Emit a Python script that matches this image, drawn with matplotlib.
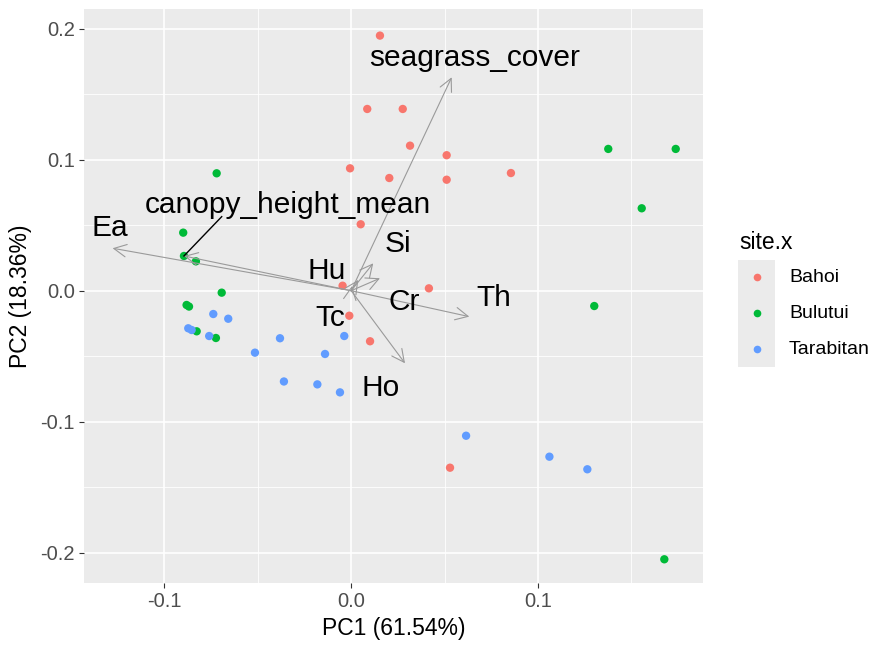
import matplotlib
matplotlib.use("Agg")
import matplotlib.pyplot as plt
from matplotlib.lines import Line2D
from matplotlib.patches import Rectangle

plt.rcParams['font.family'] = ['Liberation Sans', 'DejaVu Sans']

# PCA scores
bahoi_x = [0.0154, 0.0086, 0.0276, 0.0315, 0.0511, -0.0006, 0.0204, 0.0511, 0.0855, 0.0051,
           -0.0046, 0.0416, -0.0010, 0.0101, 0.0529]
bahoi_y = [0.1947, 0.1387, 0.1387, 0.1107, 0.1034, 0.0934, 0.0860, 0.0847, 0.0898, 0.0507,
           0.0038, 0.0018, -0.0191, -0.0386, -0.1351]
bulutui_x = [0.1376, 0.1737, 0.1555, 0.1301, 0.1676, -0.0720, -0.0899, -0.0895, -0.0831, -0.0693,
             -0.0881, -0.0868, -0.0827, -0.0724]
bulutui_y = [0.1082, 0.1082, 0.0629, -0.0117, -0.2050, 0.0896, 0.0443, 0.0265, 0.0224, -0.0015,
             -0.0109, -0.0121, -0.0310, -0.0361]
tara_x = [-0.0738, -0.0658, -0.0872, -0.0854, -0.0760, -0.0381, -0.0515, -0.0037, -0.0140, -0.0360,
          -0.0181, -0.0060, 0.0615, 0.1061, 0.1264]
tara_y = [-0.0178, -0.0214, -0.0287, -0.0300, -0.0346, -0.0363, -0.0473, -0.0346, -0.0483, -0.0693,
          -0.0715, -0.0776, -0.1107, -0.1267, -0.1363]

sites = ["Bahoi", "Bulutui", "Tarabitan"]
site_colors = ["#F8766D", "#00BA38", "#619CFF"]

# loadings (arrow tips) and where their labels sit
var_names = ["seagrass_cover", "Ea", "canopy_height_mean", "Th", "Ho", "Si", "Cr", "Hu", "Tc"]
load_x = [0.0538, -0.1277, -0.0895, 0.0632, 0.0288, 0.0118, 0.0154, 0.0038, 0.0004]
load_y = [0.1629, 0.0324, 0.0265, -0.0198, -0.0554, 0.0209, 0.0095, 0.0082, 0.0036]
lab_x = [0.0663, -0.1291, -0.0339, 0.0761, 0.0160, 0.0251, 0.0283, -0.0131, -0.0113]
lab_y = [0.1776, 0.0479, 0.0654, -0.0056, -0.0743, 0.0356, -0.0084, 0.0152, -0.0212]

W, H = 872, 647
fig = plt.figure(figsize=(W / 100, H / 100), dpi=100)
ax = fig.add_axes([84 / W, 1 - 583 / H, (703 - 84) / W, (583 - 9) / H])
ax.set_facecolor("#EBEBEB")
for s in ax.spines.values():
    s.set_visible(False)

ax.set_xlim(-0.1430, 0.1883)
ax.set_ylim(-0.2231, 0.2150)
ax.set_xticks([-0.1, 0.0, 0.1])
ax.set_xticklabels(["-0.1", "0.0", "0.1"])
ax.set_yticks([-0.2, -0.1, 0.0, 0.1, 0.2])
ax.set_yticklabels(["-0.2", "-0.1", "0.0", "0.1", "0.2"])
ax.set_xticks([-0.05, 0.05, 0.15], minor=True)
ax.set_yticks([-0.15, -0.05, 0.05, 0.15], minor=True)
ax.grid(which="major", color="white", lw=1.2)
ax.grid(which="minor", color="white", lw=0.6)
ax.set_axisbelow(True)
ax.tick_params(which="major", length=3.5, color="#333333", labelsize=14.5, labelcolor="#4D4D4D", pad=3)
ax.tick_params(which="minor", length=0)

for xs, ys, c in zip([bahoi_x, bulutui_x, tara_x], [bahoi_y, bulutui_y, tara_y], site_colors):
    ax.scatter(xs, ys, s=36, color=c, edgecolors="none", zorder=3)

for i in range(len(var_names)):
    ax.annotate("", xy=(load_x[i], load_y[i]), xytext=(0, 0),
                arrowprops=dict(arrowstyle="->,head_length=0.9,head_width=0.45",
                                color="#9A9A9A", lw=0.8, shrinkA=0, shrinkB=0), zorder=4)
    ax.text(lab_x[i], lab_y[i], var_names[i], fontsize=21.5, ha="center", va="center",
            color="black", zorder=5)

# connector from canopy_height_mean label to its arrow
ax.plot([-0.0693, -0.0895], [0.0565, 0.0265], color="black", lw=1, zorder=5)

ax.set_xlabel("PC1 (61.54%)", fontsize=16.5, labelpad=4)
ax.set_ylabel("PC2 (18.36%)", fontsize=16.5, labelpad=6)

# legend drawn by hand, ggplot style
fig.text(739 / W, 1 - 242 / H, "site.x", fontsize=16.5, ha="left", va="center")
fig.patches.append(Rectangle((738 / W, 1 - 367 / H), 37 / W, 107 / H,
                             transform=fig.transFigure, facecolor="#EBEBEB", edgecolor="none"))
for k, (name, c) in enumerate(zip(sites, site_colors)):
    yk = 277 + 36 * k
    fig.add_artist(Line2D([757 / W], [1 - yk / H], marker="o", ms=5.5, color=c,
                          markeredgewidth=0, linestyle="none", transform=fig.transFigure))
    fig.text(789 / W, 1 - yk / H, name, fontsize=14, ha="left", va="center")

fig.savefig("out.png", dpi=100)
